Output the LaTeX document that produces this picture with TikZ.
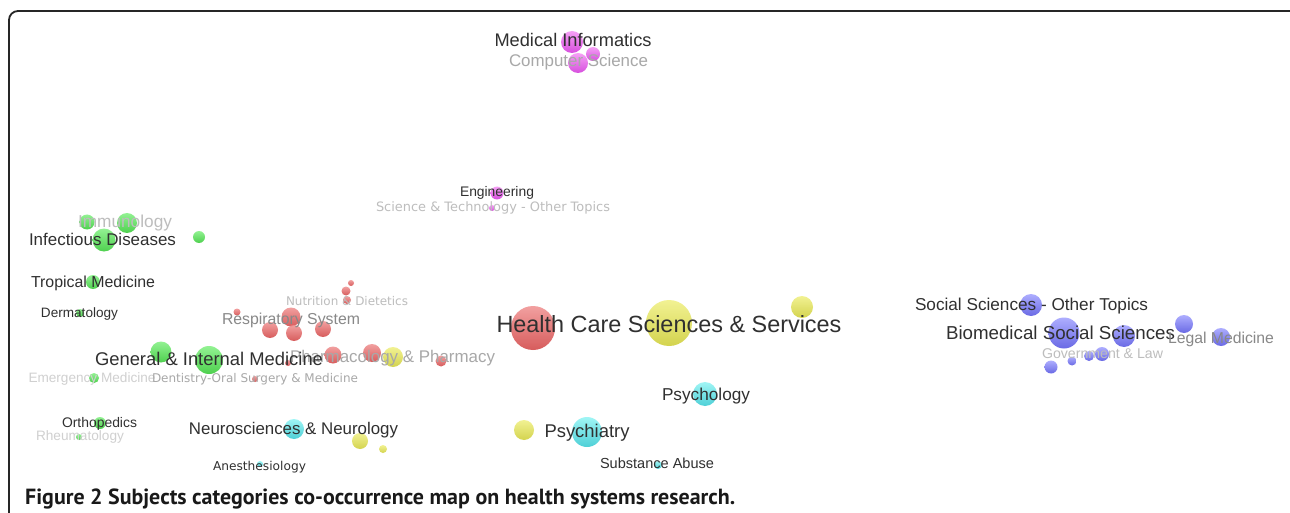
\documentclass[tikz,border=0pt]{standalone}
\usepackage{fontspec}
\setmainfont{Liberation Sans}
\newfontfamily\verd{DejaVu Sans}
\newfontfamily\capfont{PT Sans}
\usepackage{graphicx}
\definecolor{dk}{HTML}{303030}
\definecolor{gA}{HTML}{888888}
\definecolor{gB}{HTML}{A8A8A8}
\definecolor{gC}{HTML}{BDBDBD}
\definecolor{gD}{HTML}{D0D0D0}
\definecolor{gtop}{HTML}{80F080}\definecolor{gbot}{HTML}{30C830}
\definecolor{rtop}{HTML}{F09090}\definecolor{rbot}{HTML}{D04040}
\definecolor{ytop}{HTML}{F0F080}\definecolor{ybot}{HTML}{CCCC30}
\definecolor{ctop}{HTML}{90F4F4}\definecolor{cbot}{HTML}{30C8D0}
\definecolor{btop}{HTML}{A0A0FF}\definecolor{bbot}{HTML}{5050E0}
\definecolor{mtop}{HTML}{F490F4}\definecolor{mbot}{HTML}{D030D8}
\tikzset{
  bubble/.style={circle, inner sep=0pt, draw=none, fill opacity=0.85},
  grn/.style={bubble, top color=gtop, bottom color=gbot},
  red/.style={bubble, top color=rtop, bottom color=rbot},
  yel/.style={bubble, top color=ytop, bottom color=ybot},
  cyn/.style={bubble, top color=ctop, bottom color=cbot},
  blu/.style={bubble, top color=btop, bottom color=bbot},
  mag/.style={bubble, top color=mtop, bottom color=mbot},
  lab/.style={anchor=base, inner sep=0pt, font=\fontsize{16}{16}\selectfont},
  frame/.style={draw=black!85, line width=1.8pt, rounded corners=9pt}
}
\newcommand\bb[5]{\node[#2, minimum size=#5*2pt] (#1) at (#3,#4) {};}
\newcommand\lb[6]{\node[lab, text=#5] (#1) at (#2,#3) {\resizebox{#4pt}{!}{#6}};}
\begin{document}
\begin{tikzpicture}[x=1pt,y=-1pt]
\useasboundingbox (0,0) rectangle (1290,513);
\begin{scope}
\clip (0,0) rectangle (1290,513);
\fill[white] (0,0) rectangle (1290,513);
\draw[frame] (9,540) -- (9,11) -- (1299,11) -- (1299,540);
% magenta
\bb{m1}{mag}{572}{42}{11}
\bb{m2}{mag}{593}{54}{7}
\bb{m3}{mag}{578}{63}{10}
\bb{m4}{mag}{497}{193}{6.5}
\bb{m5}{mag}{492}{208}{3}
% green
\bb{g1}{grn}{87}{222}{7.5}
\bb{g2}{grn}{127}{223}{10}
\bb{g3}{grn}{104}{240}{11.5}
\bb{g4}{grn}{199}{237}{6}
\bb{g5}{grn}{93}{282}{7}
\bb{g6}{grn}{80}{313}{4}
\bb{g7}{grn}{161}{352}{10.5}
\bb{g8}{grn}{209}{360}{14}
\bb{g9}{grn}{94}{378}{5}
\bb{g10}{grn}{100}{423}{6}
\bb{g11}{grn}{79}{437}{3}
% red
\bb{r1}{red}{351}{283}{3}
\bb{r2}{red}{346}{291}{4.5}
\bb{r3}{red}{347}{300}{4}
\bb{r4}{red}{237}{312}{3.5}
\bb{r5}{red}{291}{317}{9.5}
\bb{r6}{red}{270}{330}{8}
\bb{r7}{red}{294}{333}{8}
\bb{r8}{red}{323}{329}{8}
\bb{r9}{red}{333}{355}{8.5}
\bb{r10}{red}{372}{353}{9}
\bb{r11}{red}{441}{361}{5.5}
\bb{r12}{red}{288}{363}{3}
\bb{r13}{red}{255}{379}{3}
\bb{r14}{red}{533}{328}{22}
% yellow
\bb{y1}{yel}{393}{357}{10}
\bb{y2}{yel}{669}{323}{23}
\bb{y3}{yel}{802}{307}{11}
\bb{y4}{yel}{360}{441}{8}
\bb{y5}{yel}{383}{449}{4}
\bb{y6}{yel}{524}{430}{10}
% cyan
\bb{c1}{cyn}{294}{429}{10}
\bb{c2}{cyn}{260}{464}{3}
\bb{c3}{cyn}{587}{432}{15}
\bb{c4}{cyn}{705}{394}{12}
\bb{c5}{cyn}{658}{465}{4}
% blue
\bb{b1}{blu}{1031}{305}{11}
\bb{b2}{blu}{1064}{333}{15.5}
\bb{b3}{blu}{1124}{336}{11}
\bb{b4}{blu}{1184}{324}{9}
\bb{b5}{blu}{1221}{337}{9}
\bb{b6}{blu}{1102}{354}{7}
\bb{b7}{blu}{1089}{356}{5}
\bb{b8}{blu}{1072}{361}{4.5}
\bb{b9}{blu}{1051}{367}{6.5}
% labels
\lb{t1}{573}{46.5}{157}{dk}{Medical Informatics}
\lb{t2}{578.5}{67}{139}{gB}{Computer Science}
\lb{t3}{497}{197}{74}{dk}{Engineering}
\lb{t4}{493}{211.5}{234}{gC}{\verd Science \& Technology - Other Topics}
\lb{t5}{125}{228}{94}{gC}{Immunology}
\lb{t6}{102.5}{245.5}{147}{dk}{Infectious Diseases}
\lb{t7}{93}{287}{124}{dk}{Tropical Medicine}
\lb{t8}{79.5}{317}{77}{dk}{Dermatology}
\lb{t9}{347}{305}{122}{gC}{\verd Nutrition \& Dietetics}
\lb{t10}{291}{324}{138}{gA}{Respiratory System}
\lb{t11}{392.5}{362.5}{205}{gB}{Pharmacology \& Pharmacy}
\lb{t12}{209}{365.5}{228}{dk}{General \& Internal Medicine}
\lb{t13}{92}{382.5}{127}{gD}{Emergency Medicine}
\lb{t14}{255}{382.5}{206}{gB}{\verd Dentistry-Oral Surgery \& Medicine}
\lb{t15}{99.5}{427.5}{75}{dk}{Orthopedics}
\lb{t16}{80}{440.5}{88}{gD}{Rheumatology}
\lb{t17}{293.5}{434.5}{209}{dk}{Neurosciences \& Neurology}
\lb{t18}{259.5}{470}{93}{dk}{\verd Anesthesiology}
\lb{t19}{587}{437}{85}{dk}{Psychiatry}
\lb{t20}{657}{468.5}{114}{dk}{Substance Abuse}
\lb{t21}{706}{400}{88}{dk}{Psychology}
\lb{t22}{669}{332}{345}{dk}{Health Care Sciences \& Services}
\lb{t23}{1031.5}{310}{233}{dk}{Social Sciences - Other Topics}
\lb{t24}{1060.5}{339}{229}{dk}{Biomedical Social Sciences}
\lb{t25}{1221}{343}{106}{gA}{Legal Medicine}
\lb{t26}{1102.5}{358.5}{121}{gC}{Government \& Law}
\node[anchor=base west, inner sep=0pt, text=black!90] (cap) at (25,504)
  {\resizebox{710pt}{!}{\capfont\bfseries Figure 2 Subjects categories co-occurrence map on health systems research.}};
\end{scope}
\end{tikzpicture}
\end{document}
